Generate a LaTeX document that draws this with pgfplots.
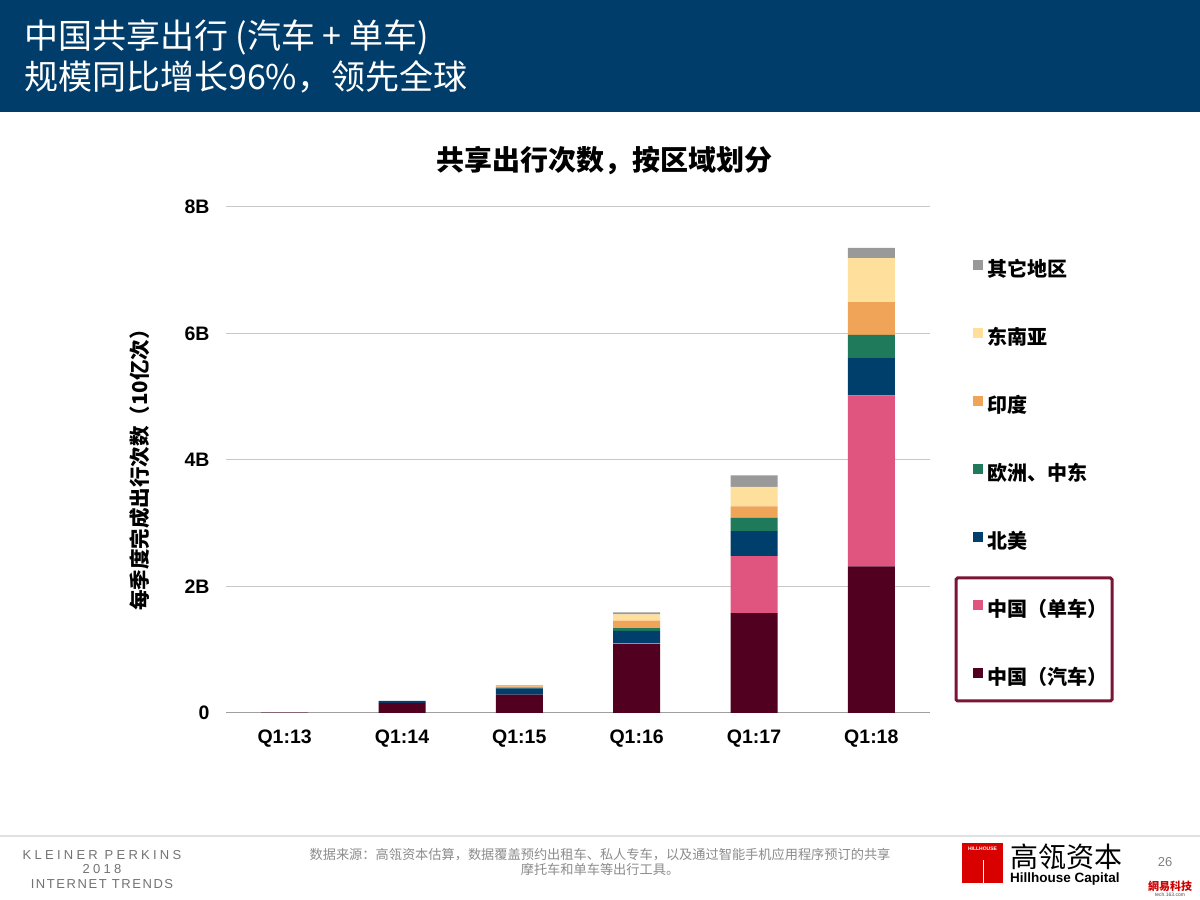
\documentclass[border=0pt]{standalone}
\usepackage{fontspec}
\usepackage{pgfplots}
\usepackage{pgfplotstable}
\pgfplotsset{compat=1.18}
\setmainfont{Liberation Sans}
\newfontfamily\cjk{Noto Sans CJK SC}
\definecolor{hdr}{HTML}{003D6A}
\definecolor{cCar}{HTML}{520020}
\definecolor{cBike}{HTML}{E0557F}
\definecolor{cNA}{HTML}{003F6B}
\definecolor{cEU}{HTML}{1F7A5C}
\definecolor{cIN}{HTML}{F0A457}
\definecolor{cSEA}{HTML}{FEDF9B}
\definecolor{cOth}{HTML}{999999}
\definecolor{boxc}{HTML}{7A1535}
\definecolor{gridc}{HTML}{C8C8C8}

% columns: x, China car, China bike, North America, Europe/ME, India, SE Asia, Other (billions)
\pgfplotstableread{
x car   bike  na    eu    india sea   oth
0 0.005 0.00  0.00  0.00  0.00  0.00  0.00
1 0.16  0.00  0.03  0.00  0.00  0.00  0.00
2 0.29  0.00  0.10  0.01  0.02  0.01  0.005
3 1.09  0.01  0.20  0.04  0.12  0.10  0.03
4 1.58  0.90  0.395 0.21  0.18  0.31  0.18
5 2.32  2.70  0.59  0.37  0.515 0.695 0.165
}\datatable

\begin{document}
\begin{tikzpicture}[x=1pt,y=1pt]
\useasboundingbox (0,0) rectangle (1200,900);
\fill[white] (0,0) rectangle (1200,900);
% header
\fill[hdr] (0,788) rectangle (1200,900);
\node[anchor=base west, text=white, font=\cjk\fontsize{34}{40}\selectfont, inner sep=0] at (24,851) {中国共享出行 (汽车 + 单车)};
\node[anchor=base west, text=white, font=\cjk\fontsize{34}{40}\selectfont, inner sep=0] at (24,810) {规模同比增长96\%，领先全球};

\begin{axis}[
  at={(226pt,187pt)}, anchor=south west,
  scale only axis, width=704pt, height=506pt,
  ybar stacked, bar width=47pt,
  xmin=-0.5, xmax=5.5, ymin=0, ymax=8,
  xtick={0,1,2,3,4,5},
  xticklabels={Q1:13,Q1:14,Q1:15,Q1:16,Q1:17,Q1:18},
  ytick={0,2,4,6,8},
  yticklabels={0,2B,4B,6B,8B},
  major tick length=0pt,
  axis line style={draw=none},
  ymajorgrids, grid style={color=gridc, line width=1pt},
  tick label style={font=\bfseries\fontsize{19.5}{19.5}\selectfont},
  /pgf/number format/assume math mode=true,
  yticklabel style={xshift=-13pt},
  xticklabel style={yshift=-13pt},
  title={\cjk\bfseries 共享出行次数，按区域划分},
  title style={font=\fontsize{28}{30}\selectfont, at={(axis description cs:0.538,1.079)}, anchor=center},
  ylabel={\cjk\bfseries 每季度完成出行次数（10亿次）},
  ylabel style={font=\fontsize{20.5}{21}\selectfont, at={(axis description cs:-0.1222,0.49)}, anchor=center},
  legend style={at={(rel axis cs:1.0607,0.895)}, anchor=north west, draw=none, fill=none,
    inner sep=0pt, row sep=46.5pt, font=\cjk\bfseries\fontsize{20}{20}\selectfont,
    nodes={inner sep=0pt, text height=14pt, text depth=5pt},
    /tikz/every odd column/.append style={column sep=5pt}},
  legend cell align=left,
  reverse legend,
  mybar/.style={fill=#1, draw=none, legend image code/.code={\fill[#1] (0pt,2pt) rectangle (10pt,12pt);}},
]
\addplot[mybar=cCar] table[x=x,y=car] {\datatable};
\addplot[mybar=cBike] table[x=x,y=bike] {\datatable};
\addplot[mybar=cNA] table[x=x,y=na] {\datatable};
\addplot[mybar=cEU] table[x=x,y=eu] {\datatable};
\addplot[mybar=cIN] table[x=x,y=india] {\datatable};
\addplot[mybar=cSEA] table[x=x,y=sea] {\datatable};
\addplot[mybar=cOth] table[x=x,y=oth] {\datatable};
\legend{中国（汽车）,中国（单车）,北美,欧洲、中东,印度,东南亚,其它地区}
\draw[color=gray!75, line width=2pt] (rel axis cs:0,0) -- (rel axis cs:1,0);
\end{axis}
% box around China entries
\draw[color=boxc, line width=3pt, rounded corners=1.5pt] (956,322) rectangle (1112,199);

% footer
\draw[color=black!12, line width=1.5pt] (0,64) -- (1200,64);
\node[text=black!55, font=\fontsize{13}{13}\selectfont\addfontfeature{LetterSpace=25}, inner sep=0] at (102,45) {KLEINER PERKINS};
\node[text=black!55, font=\fontsize{13}{13}\selectfont\addfontfeature{LetterSpace=25}, inner sep=0] at (102,31) {2018};
\node[text=black!55, font=\fontsize{13}{13}\selectfont\addfontfeature{LetterSpace=12}, inner sep=0] at (102,16) {INTERNET TRENDS};
\node[text=black!45, font=\cjk\fontsize{13.2}{14}\selectfont, inner sep=0] at (600,45) {数据来源：高瓴资本估算，数据覆盖预约出租车、私人专车，以及通过智能手机应用程序预订的共享};
\node[text=black!45, font=\cjk\fontsize{13.2}{14}\selectfont, inner sep=0] at (600,31) {摩托车和单车等出行工具。};
% logo
\fill[color=red!85!black] (962,17) rectangle (1003,57);
\node[text=white, font=\bfseries\fontsize{5}{5}\selectfont, inner sep=0] at (982.5,51) {HILLHOUSE};
\draw[white, line width=0.6pt] (983,17) -- (983,40);
\node[anchor=west, text=black, font=\cjk\fontsize{28}{28}\selectfont, inner sep=0] at (1010,43) {高瓴资本};
\node[anchor=west, text=black, font=\bfseries\fontsize{13.5}{14}\selectfont, inner sep=0] at (1010,21) {Hillhouse Capital};
\node[text=black!50, font=\fontsize{13}{14}\selectfont, inner sep=0] at (1165,38) {26};
\node[text=red!80!black, font=\cjk\bfseries\fontsize{11}{12}\selectfont, inner sep=0] at (1170,14) {網易科技};
\node[text=black!70, font=\fontsize{5}{5}\selectfont, inner sep=0] at (1170,5) {tech.163.com};
\end{tikzpicture}
\end{document}
